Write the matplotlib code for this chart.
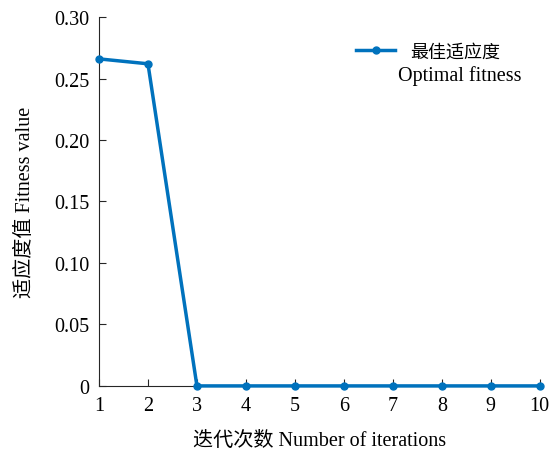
import matplotlib
matplotlib.use("Agg")
import matplotlib.pyplot as plt

iterations = [1, 2, 3, 4, 5, 6, 7, 8, 9, 10]
fitness = [0.266, 0.262, 0, 0, 0, 0, 0, 0, 0, 0]
yticks = [0, 0.05, 0.10, 0.15, 0.20, 0.25, 0.30]
ytick_labels = ["0", "0.05", "0.10", "0.15", "0.20", "0.25", "0.30"]
legend_cn = "最佳适应度"
legend_en = "Optimal fitness"

fam = ["Liberation Serif", "Noto Sans CJK SC"]
plt.rcParams["font.family"] = fam

fig = plt.figure(figsize=(5.53, 4.52), dpi=100)
ax = fig.add_axes([0.179, 0.144, 0.797, 0.816])
ax.plot(iterations, fitness, color="#0072BD", lw=2.5, marker="o", ms=5,
        label=legend_cn, clip_on=False, zorder=3)
ax.set_xlim(1, 10)
ax.set_ylim(0, 0.30)
ax.set_xticks(iterations)
ax.set_yticks(yticks)
ax.set_yticklabels(ytick_labels)
ax.spines["top"].set_visible(False)
ax.spines["right"].set_visible(False)
for s in ("left", "bottom"):
    ax.spines[s].set_color("#262626")
    ax.spines[s].set_linewidth(0.8)
ax.tick_params(direction="in", labelsize=14.5, length=5, pad=7,
               colors="#262626", labelcolor="black")
ax.set_xlabel("迭代次数 Number of iterations", fontsize=14.5, labelpad=12)
ax.set_ylabel("适应度值 Fitness value", fontsize=14.5, labelpad=14)
ax.legend(loc="upper left", frameon=False, fontsize=13, handlelength=2.2,
          handletextpad=0.8, bbox_to_anchor=(0.562, 0.952), borderpad=0)
fig.text(460 / 553, 1 - 76 / 452, legend_en, fontsize=14.5, ha="center", va="center")
fig.savefig("out.png", dpi=100)
